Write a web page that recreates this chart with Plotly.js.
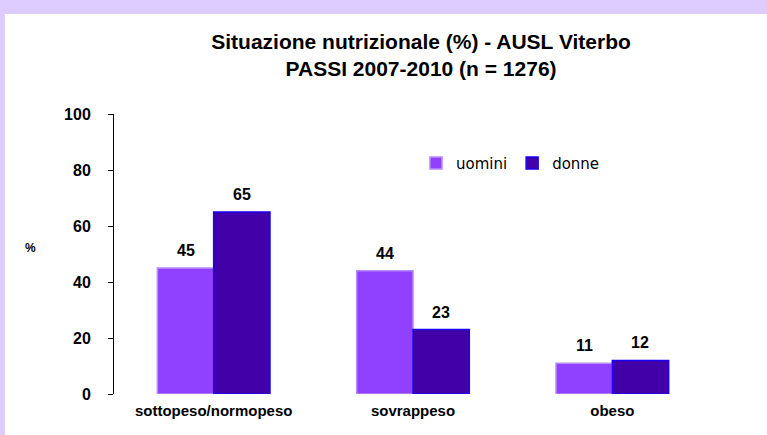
<!DOCTYPE html>
<html>
<head>
<meta charset="utf-8">
<script src="https://cdn.plot.ly/plotly-3.0.1.min.js"></script>
<style>
html,body{margin:0;padding:0;background:#DFCCFF;width:767px;height:435px;overflow:hidden;}
#chart{position:absolute;left:5px;top:14px;width:762px;height:421px;}
</style>
</head>
<body>
<div id="chart"></div>
<script>
const categories = ["sottopeso/normopeso", "sovrappeso", "obeso"];
const uomini = [45, 44, 11];
const donne = [65, 23, 12];
const seriesNames = ["uomini", "donne"];
const yTicks = [0, 20, 40, 60, 80, 100];

const FONT = "Liberation Sans, Arial, sans-serif";
const labelFont = {family: FONT, size: 16, color: "#000", weight: "bold"};

const traces = [
  {
    type: "bar", name: seriesNames[0], x: categories, y: uomini,
    marker: {color: "#9040FF", line: {color: "#B98AFF", width: 1.5}}
  },
  {
    type: "bar", name: seriesNames[1], x: categories, y: donne,
    marker: {color: "#4200A8", line: {color: "#1A00F0", width: 1.5}}
  }
];

// value labels above each bar, placed through the axis scales
const annotations = [];
[uomini, donne].forEach((vals, s) => {
  vals.forEach((v, i) => {
    annotations.push({
      x: categories[i], y: v, xref: "x", yref: "y",
      text: String(v), showarrow: false, font: labelFont,
      xanchor: "center", yanchor: "bottom",
      xshift: s === 0 ? -28 : 28, yshift: 7
    });
  });
});
annotations.push({
  text: "<b>%</b>", xref: "paper", yref: "paper", x: -0.153, y: 0.52,
  showarrow: false, font: {family: FONT, size: 12, color: "#000"}
});

const layout = {
  width: 762, height: 421,
  paper_bgcolor: "#FFFFFF", plot_bgcolor: "#FFFFFF",
  margin: {l: 109, r: 55, t: 100, b: 41},
  barmode: "group", bargap: 0.435, bargroupgap: 0,
  showlegend: true,
  title: {
    text: "<b>Situazione nutrizionale (%) - AUSL Viterbo</b><br><b>PASSI 2007-2010 (n = 1276)</b>",
    font: {family: FONT, size: 21, color: "#000"},
    xref: "container", x: 0.546, xanchor: "center",
    yref: "container", y: 0.918, yanchor: "top"
  },
  font: {family: FONT, color: "#000"},
  xaxis: {
    type: "category", range: [-0.5, 2.5],
    showline: false, ticks: "", showgrid: false, zeroline: false,
    ticklabelstandoff: 6,
    tickfont: {family: FONT, size: 15, color: "#000", weight: "bold"}
  },
  yaxis: {
    range: [0, 100], tickvals: yTicks, ticktext: yTicks.map(String),
    showline: true, linecolor: "#000", linewidth: 1,
    ticks: "outside", ticklen: 5, tickcolor: "#000", tickwidth: 1,
    showgrid: false, zeroline: false, ticklabelstandoff: 14,
    tickfont: {family: FONT, size: 16, color: "#000", weight: "bold"}
  },
  legend: {
    orientation: "h", x: 0.505, y: 0.824, xanchor: "left", yanchor: "middle",
    xref: "paper", yref: "paper",
    font: {family: "DejaVu Sans, Verdana, sans-serif", size: 15, color: "#000"},
    bgcolor: "rgba(0,0,0,0)", itemwidth: 30
  },
  annotations: annotations
};

Plotly.newPlot("chart", traces, layout, {displayModeBar: false, staticPlot: true});
</script>
</body>
</html>
